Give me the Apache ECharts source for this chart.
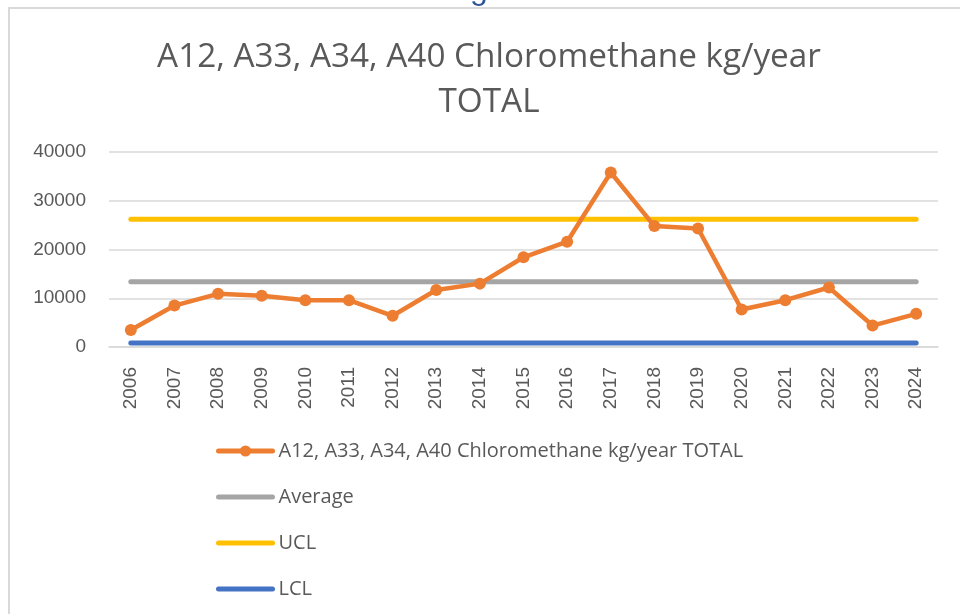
<!DOCTYPE html>
<html>
<head>
<meta charset="utf-8">
<script src="https://cdn.jsdelivr.net/npm/echarts@6/dist/echarts.min.js"></script>
<style>
html,body{margin:0;padding:0;background:#fff;}
#chart{width:960px;height:614px;}
</style>
</head>
<body>
<div id="chart"></div>
<script>
var years = ['2006','2007','2008','2009','2010','2011','2012','2013','2014','2015','2016','2017','2018','2019','2020','2021','2022','2023','2024'];
var totalValues = [3500, 8500, 10900, 10500, 9600, 9600, 6400, 11700, 13000, 18400, 21600, 35800, 24800, 24300, 7700, 9600, 12200, 4400, 6800];
var averageValues = [13400, 13400, 13400, 13400, 13400, 13400, 13400, 13400, 13400, 13400, 13400, 13400, 13400, 13400, 13400, 13400, 13400, 13400, 13400];
var uclValues = [26200, 26200, 26200, 26200, 26200, 26200, 26200, 26200, 26200, 26200, 26200, 26200, 26200, 26200, 26200, 26200, 26200, 26200, 26200];
var lclValues = [800, 800, 800, 800, 800, 800, 800, 800, 800, 800, 800, 800, 800, 800, 800, 800, 800, 800, 800];
var yTicks = [0, 10000, 20000, 30000, 40000];
var seriesNames = ['A12, A33, A34, A40 Chloromethane kg/year TOTAL', 'Average', 'UCL', 'LCL'];
var titleText = 'A12, A33, A34, A40 Chloromethane kg/year\nTOTAL';

var chart = echarts.init(document.getElementById('chart'), null, {renderer: 'canvas'});
var textColor = '#595959';
var font = '"Liberation Sans", Arial, sans-serif';
var legendFont = '"Open Sans", "Liberation Sans", sans-serif';
var option = {
  animation: false,
  backgroundColor: '#ffffff',
  title: {
    text: titleText,
    left: 484,
    textAlign: 'center',
    top: 30,
    textStyle: {
      fontFamily: '"Open Sans", sans-serif',
      fontSize: 33.3,
      fontWeight: 'normal',
      color: textColor,
      lineHeight: 45
    }
  },
  graphic: [
    {
      type: 'rect',
      shape: {x: 9, y: 8, width: 1000, height: 700},
      style: {fill: 'none', stroke: '#d9d9d9', lineWidth: 2},
      silent: true,
      z: -10
    },
    {
      type: 'text',
      left: 470,
      top: -26,
      style: {text: 'g', fontSize: 32, fill: '#2F5597', fontFamily: '"Liberation Sans", sans-serif'},
      silent: true
    }
  ],
  legend: {
    orient: 'vertical',
    left: 216,
    top: 441,
    padding: 0,
    itemWidth: 54,
    itemHeight: 14,
    itemGap: 26,
    textStyle: {fontFamily: legendFont, fontSize: 20, color: textColor, padding: [0, 0, 0, 1]},
    data: [
      {name: seriesNames[0], lineStyle: {width: 5, cap: 'round'}},
      {name: seriesNames[1], lineStyle: {width: 5, cap: 'round'}, itemStyle: {opacity: 0}},
      {name: seriesNames[2], lineStyle: {width: 5, cap: 'round'}, itemStyle: {opacity: 0}},
      {name: seriesNames[3], lineStyle: {width: 5, cap: 'round'}, itemStyle: {opacity: 0}}
    ]
  },
  grid: {left: 109, right: 22, top: 152, bottom: 267, containLabel: false},
  xAxis: {
    type: 'category',
    data: years,
    boundaryGap: true,
    axisLine: {show: true, lineStyle: {color: '#d9d9d9', width: 1.5}},
    axisTick: {show: false},
    axisLabel: {rotate: 90, margin: 20, fontFamily: font, fontSize: 19, color: textColor, interval: 0}
  },
  yAxis: {
    type: 'value',
    min: yTicks[0],
    max: yTicks[yTicks.length - 1],
    interval: yTicks[1] - yTicks[0],
    axisLine: {show: false},
    axisTick: {show: false},
    splitLine: {lineStyle: {color: '#d9d9d9', width: 1.5}},
    axisLabel: {margin: 23, fontFamily: font, fontSize: 19, color: textColor, formatter: function (v) { return String(v); }}
  },
  series: [
    {
      name: seriesNames[0],
      type: 'line',
      data: totalValues,
      symbol: 'circle',
      symbolSize: 12,
      lineStyle: {color: '#ED7D31', width: 4.5, cap: 'round', join: 'round'},
      itemStyle: {color: '#ED7D31'},
      z: 5
    },
    {
      name: seriesNames[1],
      type: 'line',
      data: averageValues,
      symbol: 'none',
      lineStyle: {color: '#A5A5A5', width: 5, cap: 'round'},
      itemStyle: {color: '#A5A5A5'},
      z: 3
    },
    {
      name: seriesNames[2],
      type: 'line',
      data: uclValues,
      symbol: 'none',
      lineStyle: {color: '#FFC000', width: 5, cap: 'round'},
      itemStyle: {color: '#FFC000'},
      z: 3
    },
    {
      name: seriesNames[3],
      type: 'line',
      data: lclValues,
      symbol: 'none',
      lineStyle: {color: '#4472C4', width: 5, cap: 'round'},
      itemStyle: {color: '#4472C4'},
      z: 3
    }
  ]
};
chart.setOption(option);
</script>
</body>
</html>
